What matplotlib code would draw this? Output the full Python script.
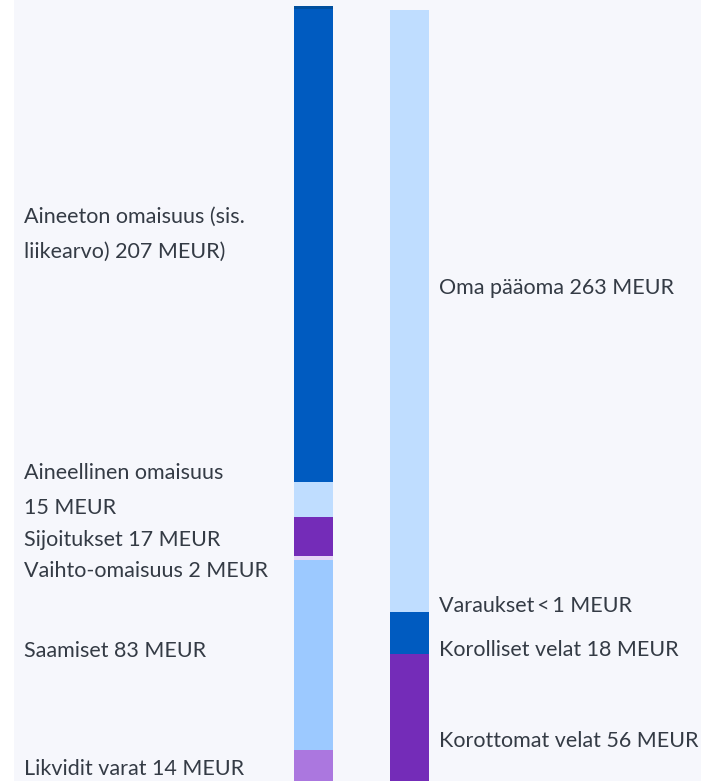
import matplotlib.pyplot as plt
import numpy as np

# --- Balance sheet data (MEUR), listed from the bottom of each bar upwards ---
ASSET_LABELS = [
    "Likvidit varat 14 MEUR",
    "Saamiset 83 MEUR",
    "Vaihto-omaisuus 2 MEUR",
    "Sijoitukset 17 MEUR",
    "Aineellinen omaisuus\n15 MEUR",
    "Aineeton omaisuus (sis.\nliikearvo) 207 MEUR)",
    "",
]
ASSET_VALUES = [14, 83, 2, 17, 15, 207, 1.3]

LIABILITY_LABELS = [
    "Korottomat velat 56 MEUR",
    "Korolliset velat 18 MEUR",
    "Varaukset\u2009<\u20091 MEUR",
    "Oma pääoma 263 MEUR",
]
LIABILITY_VALUES = [56, 18, 0.5, 263]

# label baselines (data units), hand placed like the original layout
ASSET_LABEL_Y = [3.1, 54.7, 89.6, 103.2, 132.5, 244.4, None]
LIABILITY_LABEL_Y = [15.3, 55.1, 74.3, 213.4]

ASSET_COLORS = ["#AB77DF", "#9CC9FF", "#E6D5F7", "#742CB8", "#BFDDFF",
                "#005BC0", "#00509E"]
LIABILITY_COLORS = ["#742CB8", "#005BC0", "#005BC0", "#BFDDFF"]

TEXT_COLOR = "#343B45"
PANEL_COLOR = "#F6F7FC"
PX_PER_UNIT = 2.287

fig = plt.figure(figsize=(7.01, 7.81), dpi=100, facecolor="white")
ax = fig.add_axes([14 / 701, 0, 1 - 14 / 701, 1])
ax.set_xlim(14, 701)
ax.set_ylim((782 - 781) / PX_PER_UNIT, 782 / PX_PER_UNIT)
ax.axis("off")
ax.add_patch(plt.Rectangle((0, 0), 1, 1, transform=ax.transAxes,
                           color=PANEL_COLOR, zorder=0))


def draw_stack(x_center, values, colors, labels, label_y, text_x):
    bottoms = np.concatenate([[0], np.cumsum(values)[:-1]])
    ax.bar(x_center, values, width=39, bottom=bottoms, color=colors,
           linewidth=0, zorder=2)
    for label, y in zip(labels, label_y):
        if not label:
            continue
        for i, line in enumerate(label.split("\n")):
            ax.annotate(line, xy=(text_x, y), xytext=(0, -i * 25.2),
                        textcoords="offset points", ha="left", va="baseline",
                        fontsize=15.5, family=["Lato", "DejaVu Sans"],
                        color=TEXT_COLOR)


draw_stack(313.5, ASSET_VALUES, ASSET_COLORS, ASSET_LABELS, ASSET_LABEL_Y, 24)
draw_stack(409.5, LIABILITY_VALUES, LIABILITY_COLORS, LIABILITY_LABELS,
           LIABILITY_LABEL_Y, 439)

fig.savefig("out.png", dpi=100, facecolor="white")
